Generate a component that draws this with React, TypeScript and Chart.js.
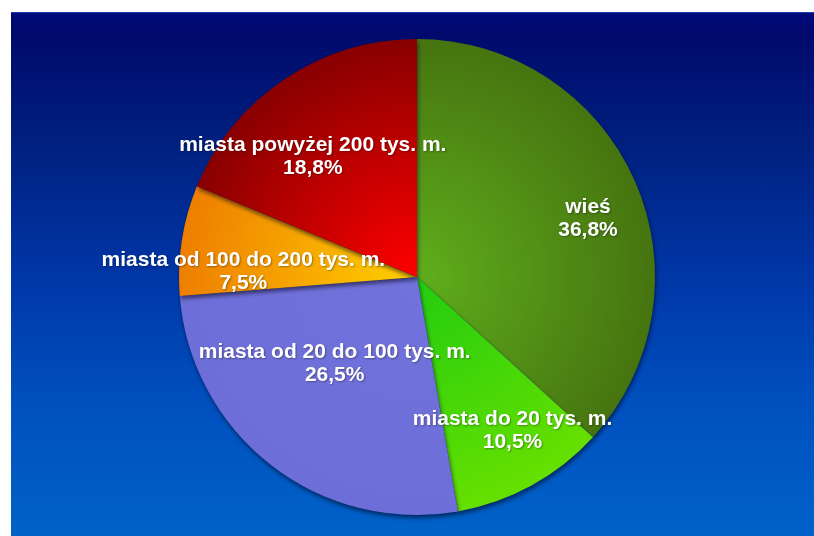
import React, { useEffect, useRef } from "react";
import { Chart, registerables } from "chart.js";

Chart.register(...registerables);

const categories = [
  "wieś",
  "miasta do 20 tys. m.",
  "miasta od 20 do 100 tys. m.",
  "miasta od 100 do 200 tys. m.",
  "miasta powyżej 200 tys. m.",
];
const values = [36.8, 10.5, 26.5, 7.5, 18.8];
const valueLabels = ["36,8%", "10,5%", "26,5%", "7,5%", "18,8%"];

// styles
const innerColors = ["#5fae1c", "#22cc10", "#7272dc", "#ffd000", "#ff0000"];
const outerColors = ["#467410", "#66e000", "#6e6ed8", "#ee7e00", "#880000"];
const labelRadius = [0.76, 0.76, 0.5, 0.73, 0.67];
const labelAngleShift = [4.8, -3.1, 6, -7, -7];

const labelPlugin = {
  id: "sliceLabels",
  afterDatasetsDraw(chart: any) {
    const ctx = chart.ctx;
    const meta = chart.getDatasetMeta(0);
    ctx.save();
    ctx.fillStyle = "#ffffff";
    ctx.font = "bold 21px 'Liberation Sans', Arial, sans-serif";
    ctx.textAlign = "center";
    ctx.textBaseline = "middle";
    ctx.shadowColor = "rgba(0,0,0,0.35)";
    ctx.shadowBlur = 2;
    ctx.shadowOffsetX = 1;
    ctx.shadowOffsetY = 1;
    meta.data.forEach((arc: any, i: number) => {
      const p = arc.getProps(["x", "y", "startAngle", "endAngle", "outerRadius"], true);
      const mid = (p.startAngle + p.endAngle) / 2 + (labelAngleShift[i] * Math.PI) / 180;
      const r = p.outerRadius * labelRadius[i];
      const x = p.x + Math.cos(mid) * r;
      const y = p.y + Math.sin(mid) * r;
      ctx.fillText(categories[i], x, y - 11);
      ctx.fillText(valueLabels[i], x, y + 12);
    });
    ctx.restore();
  },
};

const shadowPlugin = {
  id: "pieShadow",
  beforeDatasetsDraw(chart: any) {
    const ctx = chart.ctx;
    ctx.save();
    ctx.shadowColor = "rgba(0,0,20,0.55)";
    ctx.shadowBlur = 4;
    ctx.shadowOffsetX = 1;
    ctx.shadowOffsetY = 3;
  },
  afterDatasetsDraw(chart: any) {
    chart.ctx.restore();
  },
};

function sliceColor(context: any) {
  const chart = context.chart;
  const area = chart.chartArea;
  const i = context.dataIndex;
  if (!area) return innerColors[i];
  const cx = (area.left + area.right) / 2;
  const cy = (area.top + area.bottom) / 2;
  const r = Math.min(area.right - area.left, area.bottom - area.top) / 2;
  const g = chart.ctx.createRadialGradient(cx, cy, 0, cx, cy, r);
  g.addColorStop(0, innerColors[i]);
  g.addColorStop(1, outerColors[i]);
  return g;
}

export default function App() {
  const ref = useRef<HTMLCanvasElement>(null);
  useEffect(() => {
    if (!ref.current) return;
    const chart = new Chart(ref.current, {
      type: "pie",
      data: {
        labels: categories,
        datasets: [
          {
            data: values,
            backgroundColor: sliceColor as any,
            borderWidth: 0,
          },
        ],
      },
      options: {
        animation: false,
        responsive: false,
        layout: { padding: { top: 27, bottom: 21, left: 9, right: 0 } },
        plugins: {
          legend: { display: false },
          tooltip: { enabled: false },
        },
      },
      plugins: [shadowPlugin, labelPlugin],
    });
    return () => chart.destroy();
  }, []);

  return (
    <div style={{ position: "fixed", left: 0, top: 0, width: 814, height: 536, background: "#ffffff" }}>
      <div
        style={{
          position: "absolute",
          left: 11,
          top: 12,
          width: 803,
          height: 524,
          background:
            "linear-gradient(to bottom, #3a6ad0 0px, #00097a 1px, #000a6c 4%, #00207f 25%, #0036a6 50%, #0050bf 75%, #0062c8 100%)",
        }}
      >
        <canvas ref={ref} width={803} height={524} style={{ display: "block" }} />
      </div>
    </div>
  );
}
